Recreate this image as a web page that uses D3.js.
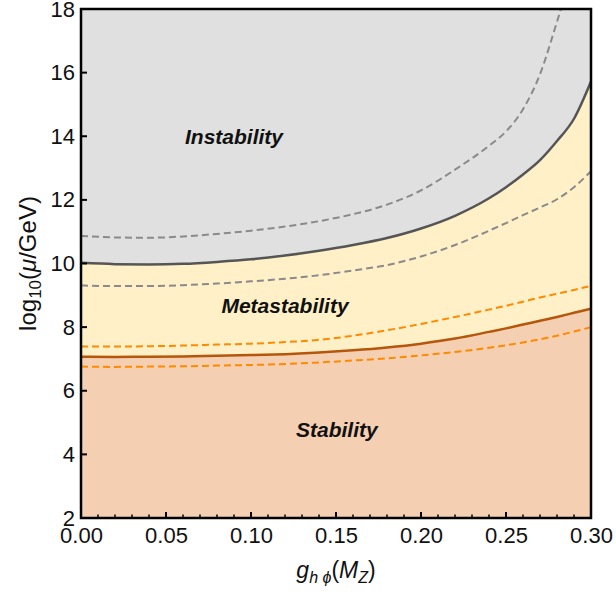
<!DOCTYPE html>
<meta charset="utf-8">
<script src="https://d3js.org/d3.v7.min.js"></script>
<style>
  body { margin: 0; background: #fff; font-family: "Liberation Sans", Arial, Helvetica, sans-serif; }
</style>
<body>
<div id="chart"></div>
<script>

// data: x = g_{h phi}(M_Z), y = log10(mu/GeV)
const gX       = [0.00, 0.02, 0.04, 0.06, 0.08, 0.10, 0.12, 0.14, 0.16, 0.18, 0.20, 0.22, 0.24, 0.25, 0.26, 0.27, 0.28, 0.29, 0.30];
const instab   = [10.02, 9.98, 9.97, 9.99, 10.05, 10.13, 10.25, 10.40, 10.58, 10.80, 11.10, 11.50, 12.05, 12.40, 12.80, 13.25, 13.85, 14.55, 15.72];
const instabHi = [10.87, 10.82, 10.81, 10.85, 10.93, 11.03, 11.16, 11.33, 11.55, 11.85, 12.30, 12.95, 13.70, 14.15, 14.85, 15.95, 17.60, 19.40, 21.50];
const instabLo = [9.31, 9.29, 9.29, 9.32, 9.37, 9.44, 9.52, 9.63, 9.78, 9.95, 10.22, 10.58, 11.03, 11.27, 11.52, 11.76, 12.02, 12.40, 12.90];
const metaHi   = [7.39, 7.39, 7.40, 7.42, 7.45, 7.48, 7.53, 7.60, 7.73, 7.90, 8.10, 8.32, 8.55, 8.67, 8.80, 8.93, 9.05, 9.17, 9.30];
const meta     = [7.07, 7.06, 7.07, 7.08, 7.10, 7.12, 7.15, 7.20, 7.27, 7.36, 7.48, 7.64, 7.85, 7.96, 8.08, 8.20, 8.32, 8.45, 8.58];
const metaLo   = [6.76, 6.75, 6.76, 6.77, 6.79, 6.81, 6.84, 6.89, 6.95, 7.02, 7.11, 7.22, 7.35, 7.43, 7.52, 7.62, 7.73, 7.86, 8.00];

const xTicks = [0.00, 0.05, 0.10, 0.15, 0.20, 0.25, 0.30];
const yTicks = [2, 4, 6, 8, 10, 12, 14, 16, 18];

const W = 616, H = 592;
const L = 81, R = 591, T = 9, B = 518;

const svg = d3.select("#chart").append("svg")
  .attr("width", W).attr("height", H);

const x = d3.scaleLinear().domain([0, 0.30]).range([L, R]);
const y = d3.scaleLinear().domain([2, 18]).range([B, T]);

svg.append("defs").append("clipPath").attr("id", "clip")
  .append("rect").attr("x", L).attr("y", T).attr("width", R - L).attr("height", B - T);

const plot = svg.append("g").attr("clip-path", "url(#clip)");

// background = metastability band
plot.append("rect").attr("x", L).attr("y", T).attr("width", R - L).attr("height", B - T)
  .attr("fill", "#fff0c7");

const curve = d3.curveMonotoneX;

function pts(ys) { return gX.map((g, i) => [g, ys[i]]); }

// instability region
plot.append("path")
  .datum(pts(instab))
  .attr("fill", "#e0e0e0")
  .attr("d", d3.area().curve(curve).x(d => x(d[0])).y0(y(18)).y1(d => y(d[1])));

// stability region
plot.append("path")
  .datum(pts(meta))
  .attr("fill", "#f5cfb2")
  .attr("d", d3.area().curve(curve).x(d => x(d[0])).y0(y(2)).y1(d => y(d[1])));

const line = d3.line().curve(curve).x(d => x(d[0])).y(d => y(d[1]));

const lines = [
  { v: instabHi, c: "#8a8a8a", w: 2, dash: "7,4" },
  { v: instabLo, c: "#8a8a8a", w: 2, dash: "7,4" },
  { v: instab,   c: "#555555", w: 2.5, dash: null },
  { v: metaHi,   c: "#ff8a00", w: 2, dash: "7,4" },
  { v: metaLo,   c: "#ff8a00", w: 2, dash: "7,4" },
  { v: meta,     c: "#b5560a", w: 2.5, dash: null }
];

lines.forEach(l => {
  plot.append("path")
    .datum(pts(l.v))
    .attr("fill", "none")
    .attr("stroke", l.c)
    .attr("stroke-width", l.w)
    .attr("stroke-dasharray", l.dash)
    .attr("d", line);
});

// region labels
const labels = [
  { t: "Instability",   gx: 0.0900, gy: 14.0 },
  { t: "Metastability", gx: 0.1200, gy: 8.68 },
  { t: "Stability",     gx: 0.1505, gy: 4.78 }
];
svg.selectAll(".reg").data(labels).enter().append("text")
  .attr("x", d => x(d.gx)).attr("y", d => y(d.gy))
  .attr("text-anchor", "middle")
  .attr("dominant-baseline", "central")
  .attr("font-size", 21).attr("font-weight", "bold").attr("font-style", "italic")
  .attr("fill", "#111")
  .text(d => d.t);

// axes
const xAxis = svg.append("g").attr("transform", `translate(0,${B})`)
  .call(d3.axisBottom(x).tickValues(xTicks).tickFormat(d3.format(".2f")).tickSize(0).tickPadding(9));
const yAxis = svg.append("g").attr("transform", `translate(${L},0)`)
  .call(d3.axisLeft(y).tickValues(yTicks).tickSize(0).tickPadding(6));

[xAxis, yAxis].forEach(a => {
  a.select(".domain").remove();
  a.selectAll("text").attr("font-size", 22).attr("fill", "#111")
    .attr("font-family", "'Liberation Sans', Arial, sans-serif");
});
xAxis.selectAll("text").attr("dy", "0.71em");

// inward ticks
const minor = d3.range(0, 31).map(i => i / 100).filter(v => Math.round(v * 100) % 5 !== 0);
svg.append("g").selectAll("line").data(xTicks).enter().append("line")
  .attr("x1", d => x(d)).attr("x2", d => x(d)).attr("y1", B).attr("y2", B - 6)
  .attr("stroke", "#000").attr("stroke-width", 2);
svg.append("g").selectAll("line").data(minor).enter().append("line")
  .attr("x1", d => x(d)).attr("x2", d => x(d)).attr("y1", B).attr("y2", B - 3.5)
  .attr("stroke", "#000").attr("stroke-width", 1.5);
svg.append("g").selectAll("line").data(yTicks).enter().append("line")
  .attr("x1", L).attr("x2", L + 6).attr("y1", d => y(d)).attr("y2", d => y(d))
  .attr("stroke", "#000").attr("stroke-width", 2);

// frame
svg.append("rect").attr("x", L).attr("y", T).attr("width", R - L).attr("height", B - T)
  .attr("fill", "none").attr("stroke", "#000").attr("stroke-width", 2.5);

// axis titles
const xl = svg.append("text")
  .attr("x", (L + R) / 2).attr("y", 578)
  .attr("text-anchor", "middle")
  .attr("font-size", 23).attr("fill", "#111");
xl.append("tspan").attr("font-style", "italic").text("g");
xl.append("tspan").attr("font-style", "italic").attr("font-size", 16).attr("dy", 5).text("h ϕ");
xl.append("tspan").attr("dy", -5).text("(");
xl.append("tspan").attr("font-style", "italic").text("M");
xl.append("tspan").attr("font-style", "italic").attr("font-size", 16).attr("dy", 5).text("Z");
xl.append("tspan").attr("dy", -5).text(")");

const yl = svg.append("text")
  .attr("transform", `translate(36,${(T + B) / 2}) rotate(-90)`)
  .attr("text-anchor", "middle")
  .attr("font-size", 24).attr("fill", "#111");
yl.append("tspan").text("log");
yl.append("tspan").attr("font-size", 17).attr("dy", 5).text("10");
yl.append("tspan").attr("dy", -5).text("(");
yl.append("tspan").attr("font-style", "italic").text("μ");
yl.append("tspan").text("/GeV)");

</script>
</body>
